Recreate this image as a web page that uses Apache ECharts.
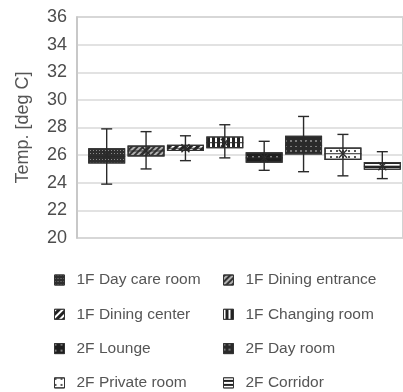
<!DOCTYPE html>
<html><head><meta charset="utf-8">
<script src="https://cdn.jsdelivr.net/npm/echarts@6/dist/echarts.min.js"></script>
<style>html,body{margin:0;padding:0;background:#fff}#c{width:403px;height:392px}</style>
</head><body><div id="c"></div>
<script>
const categories = ['1F Day care room','1F Dining entrance','1F Dining center','1F Changing room','2F Lounge','2F Day room','2F Private room','2F Corridor'];
const whiskerLow  = [23.9, 25.0, 25.6, 25.8, 24.9, 24.8, 24.5, 24.3];
const q1          = [25.4, 25.9, 26.3, 26.5, 25.45, 26.05, 25.65, 24.95];
const median      = [25.9, 26.3, 26.5, 26.9, 25.8, 26.7, 26.1, 25.2];
const q3          = [26.5, 26.7, 26.75, 27.35, 26.2, 27.4, 26.55, 25.5];
const whiskerHigh = [27.9, 27.7, 27.4, 28.2, 27.0, 28.8, 27.5, 26.25];
const meanVal     = [26.0, 26.3, 26.5, 26.9, 25.8, 26.7, 26.1, 25.2];
const yMin = 20, yMax = 36, yStep = 2;

const R = Math.PI / 4;
const styles = [
  {color:'#2e2e2e', decal:{symbol:'rect', symbolSize:1, dashArrayX:[1,2], dashArrayY:[1,2], color:'rgba(150,150,150,0.9)'}},
  {color:'#b0b0b0', decal:{symbol:'rect', symbolSize:1, dashArrayX:[1,0], dashArrayY:[1.5,2], rotation:-R, color:'#333'}},
  {color:'#222222', decal:{symbol:'rect', symbolSize:1, dashArrayX:[1,0], dashArrayY:[2,2.5], rotation:-R, color:'#ffffff'}},
  {color:'#222222', decal:{symbol:'rect', symbolSize:1, dashArrayX:[2,2.5], dashArrayY:[1,0], color:'#ffffff'}},
  {color:'#1e1e1e', decal:{symbol:'rect', symbolSize:1, dashArrayX:[1.5,4], dashArrayY:[1.5,4], color:'#808080'}},
  {color:'#2a2a2a', decal:{symbol:'rect', symbolSize:1, dashArrayX:[1.5,2.5], dashArrayY:[1.5,2.5], color:'#7a7a7a'}},
  {color:'#ffffff', decal:{symbol:'rect', symbolSize:1, dashArrayX:[1.5,4], dashArrayY:[1.5,4], color:'#555'}},
  {color:'#222222', decal:{symbol:'rect', symbolSize:1, dashArrayX:[1,0], dashArrayY:[1.5,2], color:'#ffffff'}}
];

const font = 'Liberation Sans, Arial, sans-serif';
const txtColor = '#555555';

const series = [{
  type:'bar', xAxisIndex:1, yAxisIndex:1, stack:'box', silent:true,
  barWidth:37, itemStyle:{color:'transparent'},
  data: q1.slice(),
  name:'_base'
}];
categories.forEach((name, i) => {
  series.push({
    type:'bar', name, xAxisIndex:1, yAxisIndex:1, stack:'box', barWidth:37,
    itemStyle:{color:styles[i].color, borderColor:'#333', borderWidth:1.2, decal:styles[i].decal},
    data: categories.map((c, j) => j === i ? +(q3[i] - q1[i]).toFixed(3) : '-')
  });
});
series.push({
  type:'custom', xAxisIndex:1, yAxisIndex:1, z:10, silent:true,
  data: categories.map((c, i) => [i, whiskerLow[i], whiskerHigh[i], median[i], meanVal[i]]),
  renderItem: (params, api) => {
    const i = api.value(0);
    const lo = api.coord([i, api.value(1)]);
    const hi = api.coord([i, api.value(2)]);
    const md = api.coord([i, api.value(3)]);
    const mn = api.coord([i, api.value(4)]);
    const half = 18.5, cap = 5.5, xs = 4;
    const st = {stroke:'#2a2a2a', lineWidth:1.4};
    return {type:'group', children:[
      {type:'line', shape:{x1:lo[0], y1:lo[1], x2:hi[0], y2:hi[1]}, style:st},
      {type:'line', shape:{x1:lo[0]-cap, y1:lo[1], x2:lo[0]+cap, y2:lo[1]}, style:st},
      {type:'line', shape:{x1:hi[0]-cap, y1:hi[1], x2:hi[0]+cap, y2:hi[1]}, style:st},
      {type:'line', shape:{x1:md[0]-half, y1:md[1], x2:md[0]+half, y2:md[1]}, style:{stroke:'#2a2a2a', lineWidth:1}},
      {type:'line', shape:{x1:mn[0]-xs, y1:mn[1]-xs, x2:mn[0]+xs, y2:mn[1]+xs}, style:st},
      {type:'line', shape:{x1:mn[0]-xs, y1:mn[1]+xs, x2:mn[0]+xs, y2:mn[1]-xs}, style:st}
    ]};
  }
});

// one legend box per entry: two columns, four rows
const legends = categories.map((name, i) => ({
  data:[name], orient:'horizontal', padding:0, itemWidth:10, itemHeight:10, icon:'rect',
  left: i % 2 === 0 ? 54 : 223,
  top: 272 + Math.floor(i / 2) * 34.3,
  textStyle:{fontFamily:font, fontSize:15.5, color:txtColor, padding:[0,0,0,7]},
  itemStyle:{decal:'inherit', borderColor:'#333', borderWidth:1}
}));

const chart = echarts.init(document.getElementById('c'), null, {renderer:'canvas'});
chart.setOption({
  animation:false,
  textStyle:{fontFamily:font},
  grid:[
    {left:77, top:17, right:-3, height:221, show:true, borderColor:'#c4c4c4', borderWidth:1.5, containLabel:false},
    {left:87, top:17, right:1, height:221, containLabel:false}
  ],
  xAxis:[
    {type:'value', gridIndex:0, show:false, min:0, max:1},
    {type:'category', gridIndex:1, data:categories, show:false}
  ],
  yAxis:[
    {type:'value', gridIndex:0, min:yMin, max:yMax, interval:yStep,
     name:'Temp. [deg C]', nameLocation:'middle', nameGap:45,
     nameTextStyle:{fontFamily:font, fontSize:18, color:txtColor},
     axisLine:{show:true, lineStyle:{color:'#c4c4c4', width:1.5}},
     axisTick:{show:false},
     axisLabel:{fontFamily:font, fontSize:18, color:'#4d4d4d', margin:10},
     splitLine:{lineStyle:{color:'#d9d9d9', width:1.5}}},
    {type:'value', gridIndex:1, min:yMin, max:yMax, interval:yStep, show:false, splitLine:{show:false}}
  ],
  legend: legends,
  series
});
</script></body></html>
